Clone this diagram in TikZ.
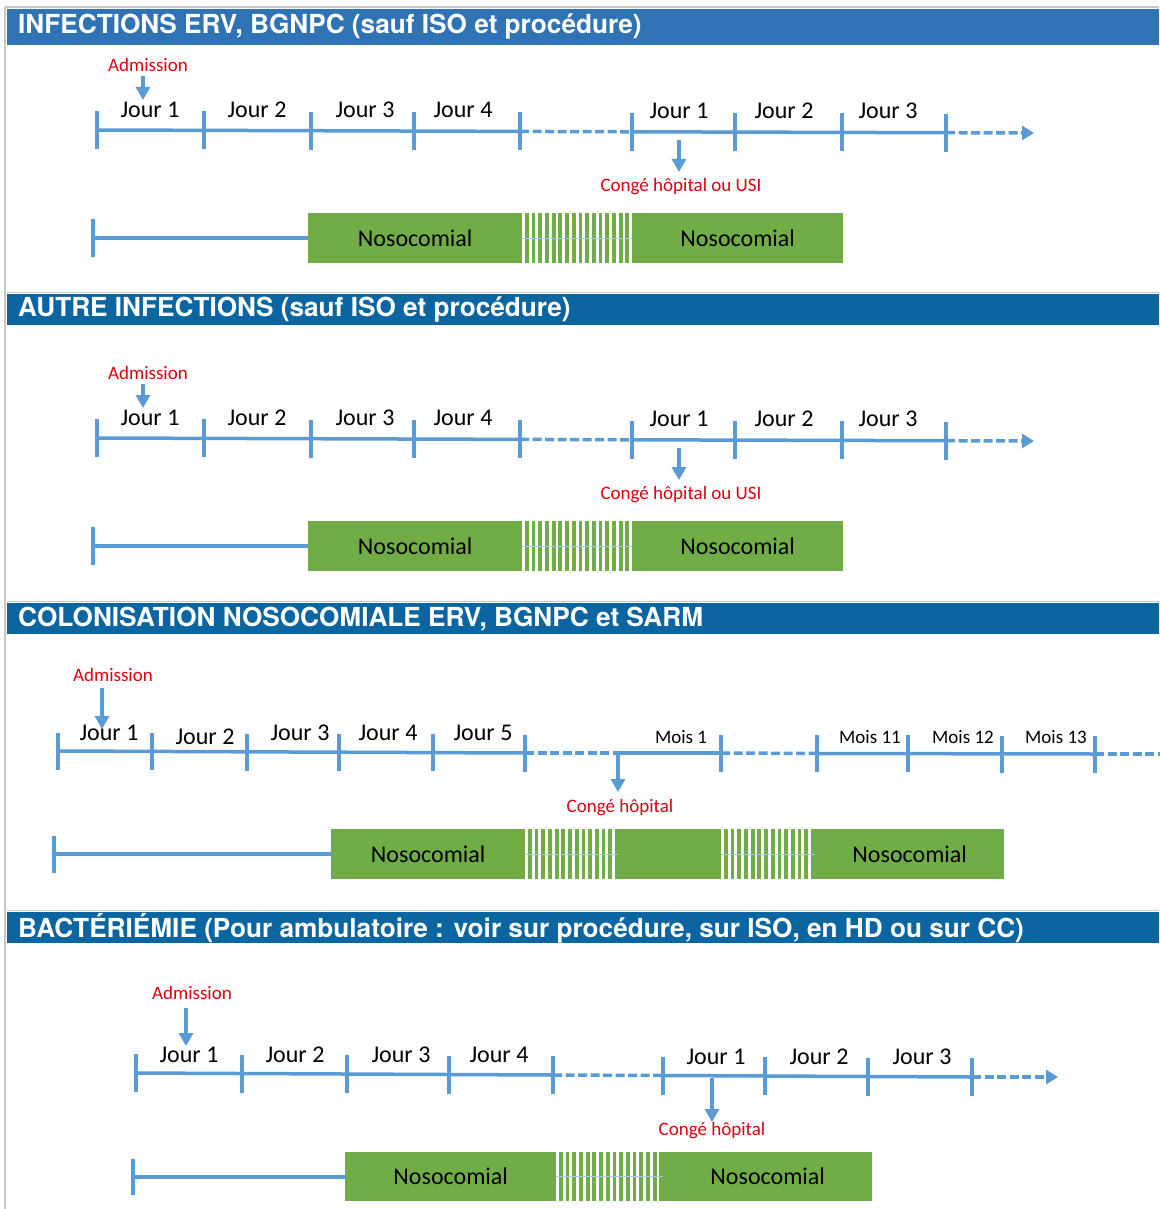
\documentclass[tikz,border=0pt]{standalone}
\usepackage{fontspec}
\setmainfont{Carlito}
\newfontfamily\headfont{TeX Gyre Heros}
\usetikzlibrary{arrows.meta}
\definecolor{tlblue}{HTML}{5B9BD5}
\definecolor{hdrA}{HTML}{2F73B5}
\definecolor{hdrB}{HTML}{0A65A0}
\definecolor{nosogreen}{HTML}{70AD47}
\definecolor{admred}{HTML}{E00010}
\definecolor{framegray}{HTML}{C8C8C8}
\tikzset{
  tl/.style={draw=tlblue, line width=3.5pt},
  tldash/.style={draw=tlblue, line width=3.5pt, dash pattern=on 9pt off 3.5pt},
  tlmark/.style={draw=tlblue, line width=3.8pt},
  daylab/.style={font=\fontsize{24}{26}\selectfont, inner sep=0pt},
  moislab/.style={font=\fontsize{19}{21}\selectfont, inner sep=0pt},
  redlab/.style={text=admred, font=\fontsize{19}{21}\selectfont, inner sep=0pt},
  downarr/.style={draw=tlblue, line width=4pt, -{Triangle[width=14pt,length=13pt]}},
  endarr/.style={draw=tlblue, line width=3.5pt, dash pattern=on 9pt off 3.5pt, -{Triangle[width=14pt,length=12pt]}},
  nosobox/.style={fill=nosogreen, draw=none, inner sep=0pt, font=\fontsize{24}{26}\selectfont, anchor=north west},
  hdrbar/.style={draw=none, anchor=north west, minimum width=1152pt, inner sep=0pt},
  hdrtext/.style={text=white, font=\headfont\bfseries\fontsize{26.2}{28}\selectfont, anchor=west, inner sep=0pt},
  framelin/.style={draw=framegray, line width=1.5pt},
}
% hatched (striped) green band: x1, y1, x2, y2
\newcommand\hatchbar[4]{%
  \path[fill=nosogreen] (#1,#2) rectangle (#3,#4);
  \begin{scope}
    \clip (#1,#2) rectangle (#3,#4);
    \pgfmathtruncatemacro\nstr{(#3-#1)/6.7}
    \foreach \i in {0,...,\nstr}{\draw[white,line width=2.9pt] ({#1+1.5+\i*6.7},#2) -- ({#1+1.5+\i*6.7},#4);}
  \end{scope}
  \draw[tlblue!55, line width=0.6pt] (#1,{(#2+#4)/2}) -- (#3,{(#2+#4)/2});
}
\newcommand\infsection{%
  \node[redlab] (adm) at (148,65) {Admission};
  \coordinate (admtop) at (143,76);
  \coordinate (admbot) at (143,100);
  \draw[downarr] (admtop) -- (admbot);
  \foreach \n/\x/\y in {t1/97/130, t2/204/130.3, t3/311/130.7, t4/414/131, t5/520/131.4, t6/632/131.8, t7/735/132.1, t8/842/132.4, t9/946/132.7}{\coordinate (\n) at (\x,\y);}
  \coordinate (tip) at (1034,133);
  \draw[tl] (t1) -- (t5);
  \draw[tldash] (t5) -- (t6);
  \draw[tl] (t6) -- (t9);
  \draw[endarr] (t9) -- (tip);
  \foreach \n in {t1,t2,t3,t4,t5,t6,t7,t8,t9}{\draw[tlmark] (\n) ++(0,-19) -- ++(0,38);}
  \node[daylab] (j1) at (150,110) {Jour 1};
  \node[daylab] (j2) at (257,110) {Jour 2};
  \node[daylab] (j3) at (365,110) {Jour 3};
  \node[daylab] (j4) at (463,110) {Jour 4};
  \node[daylab] (k1) at (679,111) {Jour 1};
  \node[daylab] (k2) at (784,111) {Jour 2};
  \node[daylab] (k3) at (888,111) {Jour 3};
  \coordinate (ctop) at (679,140);
  \coordinate (cbot) at (679,172);
  \draw[downarr] (ctop) -- (cbot);
  \node[redlab] (conge) at (681,187) {Congé hôpital ou USI};
  \coordinate (b0) at (93,238);
  \coordinate (b1) at (309,238);
  \draw[tl] (b0) -- (b1);
  \draw[tlmark] (b0) ++(0,-19) -- ++(0,38);
  \node[nosobox, minimum width=214pt, minimum height=50pt] (n1) at (308,213) {Nosocomial};
  \hatchbar{522}{213}{632}{263}
  \node[nosobox, minimum width=211pt, minimum height=50pt] (n2) at (632,213) {Nosocomial};
}
\begin{document}
\begin{tikzpicture}[x=1pt,y=-1pt]
\useasboundingbox (0,0) rectangle (1159,1209);
\fill[white] (0,0) rectangle (1159,1209);
% frame
\draw[framelin] (5,7) -- (1159,7);
\draw[framelin] (5,7) -- (5,1209);
\draw[framelin] (7,292.5) -- (1159,292.5);
\draw[framelin] (7,601.5) -- (1159,601.5);
\draw[framelin] (7,910.5) -- (1159,910.5);
% headers
\node[hdrbar, fill=hdrA, minimum height=36pt] (h1) at (7,9) {};
\node[hdrtext] (h1t) at (18,27) {INFECTIONS ERV, BGNPC (sauf ISO et procédure)};
\node[hdrbar, fill=hdrB, minimum height=31pt] (h2) at (7,294) {};
\node[hdrtext] (h2t) at (18,310) {AUTRE INFECTIONS (sauf ISO et procédure)};
\node[hdrbar, fill=hdrB, minimum height=31pt] (h3) at (7,603) {};
\node[hdrtext] (h3t) at (18,619) {COLONISATION NOSOCOMIALE ERV, BGNPC et SARM};
\node[hdrbar, fill=hdrB, minimum height=31pt] (h4) at (7,912) {};
\node[hdrtext] (h4t) at (18,928) {BACTÉRIÉMIE (Pour ambulatoire : voir sur procédure, sur ISO, en HD ou sur CC)};
% sections 1 and 2
\begin{scope}[name prefix=s1-]
  \infsection
\end{scope}
\begin{scope}[yshift=-308pt, name prefix=s2-]
  \infsection
\end{scope}
% section 3
\begin{scope}[name prefix=s3-]
  \node[redlab] (adm) at (113,675) {Admission};
  \coordinate (admtop) at (102,688);
  \coordinate (admbot) at (102,729);
  \draw[downarr] (admtop) -- (admbot);
  \foreach \n/\x/\y in {u1/58/751, u2/152/751.5, u3/247/752, u4/339/752, u5/433/752.5, u6/525/753, u7/721/753, u8/817/753.5, u9/908/753.5, u10/1002/754, u11/1095/754}{\coordinate (\n) at (\x,\y);}
  \coordinate (cm) at (618,753);
  \coordinate (tend) at (1170,754);
  \draw[tl] (u1) -- (u6);
  \draw[tldash] (u6) -- (cm);
  \draw[tl] (cm) -- (u7);
  \draw[tldash] (u7) -- (u8);
  \draw[tl] (u8) -- (u11);
  \draw[tldash] (u11) -- (tend);
  \foreach \n in {u1,u2,u3,u4,u5,u6,u7,u8,u9,u10,u11}{\draw[tlmark] (\n) ++(0,-18.5) -- ++(0,37);}
  \node[daylab] (j1) at (109,733) {Jour 1};
  \node[daylab] (j2) at (205,737) {Jour 2};
  \node[daylab] (j3) at (300,733) {Jour 3};
  \node[daylab] (j4) at (388,733) {Jour 4};
  \node[daylab] (j5) at (483,733) {Jour 5};
  \node[moislab] (m1) at (681,737) {Mois 1};
  \node[moislab] (m11) at (870,737) {Mois 11};
  \node[moislab] (m12) at (963,737) {Mois 12};
  \node[moislab] (m13) at (1056,737) {Mois 13};
  \coordinate (cbot) at (618,792);
  \draw[downarr] (cm) -- (cbot);
  \node[redlab] (conge) at (620,808) {Congé hôpital};
  \coordinate (b0) at (54,854);
  \coordinate (b1) at (332,854);
  \draw[tl] (b0) -- (b1);
  \draw[tlmark] (b0) ++(0,-18.5) -- ++(0,37);
  \node[nosobox, minimum width=194pt, minimum height=50pt] (n1) at (331,829) {Nosocomial};
  \hatchbar{525}{829}{618}{879}
  \node[nosobox, minimum width=103pt, minimum height=50pt] (n2) at (618,829) {};
  \hatchbar{721}{829}{815}{879}
  \node[nosobox, minimum width=189pt, minimum height=50pt] (n3) at (815,829) {Nosocomial};
\end{scope}
% section 4
\begin{scope}[name prefix=s4-]
  \node[redlab] (adm) at (192,993) {Admission};
  \coordinate (admtop) at (186,1008);
  \coordinate (admbot) at (186,1046);
  \draw[downarr] (admtop) -- (admbot);
  \foreach \n/\x/\y in {v1/136/1073, v2/242/1073.5, v3/347/1074, v4/449/1074.5, v5/553/1075, v6/663/1075.5, v7/765/1076, v8/868/1076.5, v9/972/1077}{\coordinate (\n) at (\x,\y);}
  \coordinate (tip) at (1058,1077);
  \draw[tl] (v1) -- (v5);
  \draw[tldash] (v5) -- (v6);
  \draw[tl] (v6) -- (v9);
  \draw[endarr] (v9) -- (tip);
  \foreach \n in {v1,v2,v3,v4,v5,v6,v7,v8,v9}{\draw[tlmark] (\n) ++(0,-19) -- ++(0,38);}
  \node[daylab] (j1) at (189,1055) {Jour 1};
  \node[daylab] (j2) at (295,1055) {Jour 2};
  \node[daylab] (j3) at (401,1055) {Jour 3};
  \node[daylab] (j4) at (499,1055) {Jour 4};
  \node[daylab] (k1) at (716,1057) {Jour 1};
  \node[daylab] (k2) at (819,1057) {Jour 2};
  \node[daylab] (k3) at (922,1057) {Jour 3};
  \coordinate (ctop) at (712,1078);
  \coordinate (cbot) at (712,1122);
  \draw[downarr] (ctop) -- (cbot);
  \node[redlab] (conge) at (712,1131) {Congé hôpital};
  \coordinate (b0) at (133,1177);
  \coordinate (b1) at (346,1177);
  \draw[tl] (b0) -- (b1);
  \draw[tlmark] (b0) ++(0,-18) -- ++(0,36);
  \node[nosobox, minimum width=211pt, minimum height=49pt] (n1) at (345,1152) {Nosocomial};
  \hatchbar{556}{1152}{663}{1201}
  \node[nosobox, minimum width=209pt, minimum height=49pt] (n2) at (663,1152) {Nosocomial};
\end{scope}
\end{tikzpicture}
\end{document}
